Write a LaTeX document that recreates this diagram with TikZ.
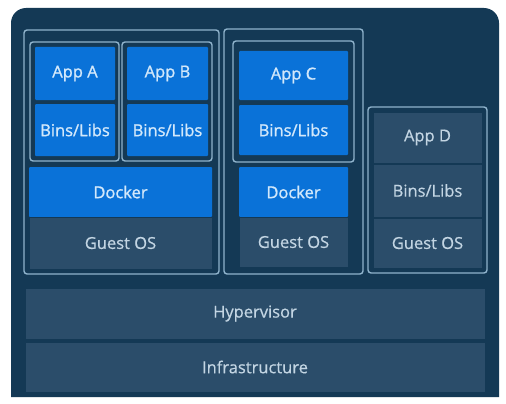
\documentclass[tikz,border=0pt]{standalone}
\usepackage{fontspec}
\setmainfont{Open Sans}
\newfontfamily\bluefont{Open Sans}[FakeBold=1.2]
\newfontfamily\grayfont{Open Sans}[FakeBold=0.5]
\definecolor{bg}{HTML}{143955}
\definecolor{grayb}{HTML}{2B4D6A}
\definecolor{blueb}{HTML}{0A72D8}
\definecolor{edge}{HTML}{8FB3CC}
\definecolor{txtblue}{HTML}{D2E8FB}
\definecolor{txtgray}{HTML}{C3D5E3}
\tikzset{
  box/.style={rectangle, inner sep=0pt},
  bluebox/.style={box, fill=blueb, text=txtblue, rounded corners=1pt, font=\bluefont\fontsize{16.5}{18}\selectfont},
  graybox/.style={box, fill=grayb, draw=bg, line width=0.8pt, text=txtgray, font=\grayfont\fontsize{16.5}{18}\selectfont},
  frame/.style={rectangle, draw=edge, line width=1.4pt, rounded corners=3pt, inner sep=0pt},
}
\begin{document}
\begin{tikzpicture}[x=1pt, y=-1pt]
\useasboundingbox (0,0) rectangle (506,404);
\fill[white] (0,0) rectangle (506,404);
% outer background
\fill[bg] (11,397) [rounded corners=15pt] -- (11,8) -- (499,8) [sharp corners] -- (499,397) -- cycle;

% VM 1
\node[frame, minimum width=195pt, minimum height=244pt] (vm1) at (121.5,152) {};
\node[frame, minimum width=89pt, minimum height=119pt] (ca) at (74.5,101.5) {};
\node[frame, minimum width=90pt, minimum height=119pt] (cb) at (167,101.5) {};
\node[bluebox, minimum width=80pt, minimum height=53pt] (appA) at (75,73.5) {App A};
\node[bluebox, minimum width=80pt, minimum height=52pt] (binsA) at (75,130) {Bins/Libs};
\node[bluebox, minimum width=81pt, minimum height=53pt] (appB) at (167.5,73.5) {App B};
\node[bluebox, minimum width=81pt, minimum height=52pt] (binsB) at (167.5,130) {Bins/Libs};
\node[bluebox, minimum width=183pt, minimum height=50pt] (dock1) at (120.5,192) {Docker};
\node[graybox, minimum width=183pt, minimum height=52pt] (guest1) at (120.5,243) {Guest OS};

% VM 2
\node[frame, minimum width=139pt, minimum height=245pt] (vm2) at (293.5,151.5) {};
\node[frame, minimum width=121pt, minimum height=121pt] (cc) at (293.5,101.5) {};
\node[bluebox, minimum width=109pt, minimum height=49pt] (appC) at (293.5,75.5) {App C};
\node[bluebox, minimum width=109pt, minimum height=50pt] (binsC) at (293.5,130) {Bins/Libs};
\node[bluebox, minimum width=109pt, minimum height=50pt] (dock2) at (293.5,192) {Docker};
\node[graybox, minimum width=109pt, minimum height=50pt] (guest2) at (293.5,242) {Guest OS};

% VM 3
\node[frame, minimum width=119pt, minimum height=166pt] (vm3) at (427.5,190) {};
\node[graybox, minimum width=109pt, minimum height=51pt] (appD) at (427.5,137.5) {App D};
\node[graybox, minimum width=109pt, minimum height=53pt] (binsD) at (427.5,190.5) {Bins/Libs};
\node[graybox, minimum width=109pt, minimum height=50pt] (guest3) at (427.5,243) {Guest OS};

% Base layers
\node[graybox, minimum width=460pt, minimum height=51pt] (hyp) at (255,313.5) {Hypervisor};
\node[graybox, minimum width=460pt, minimum height=50pt] (infra) at (255,367) {Infrastructure};
\end{tikzpicture}
\end{document}
